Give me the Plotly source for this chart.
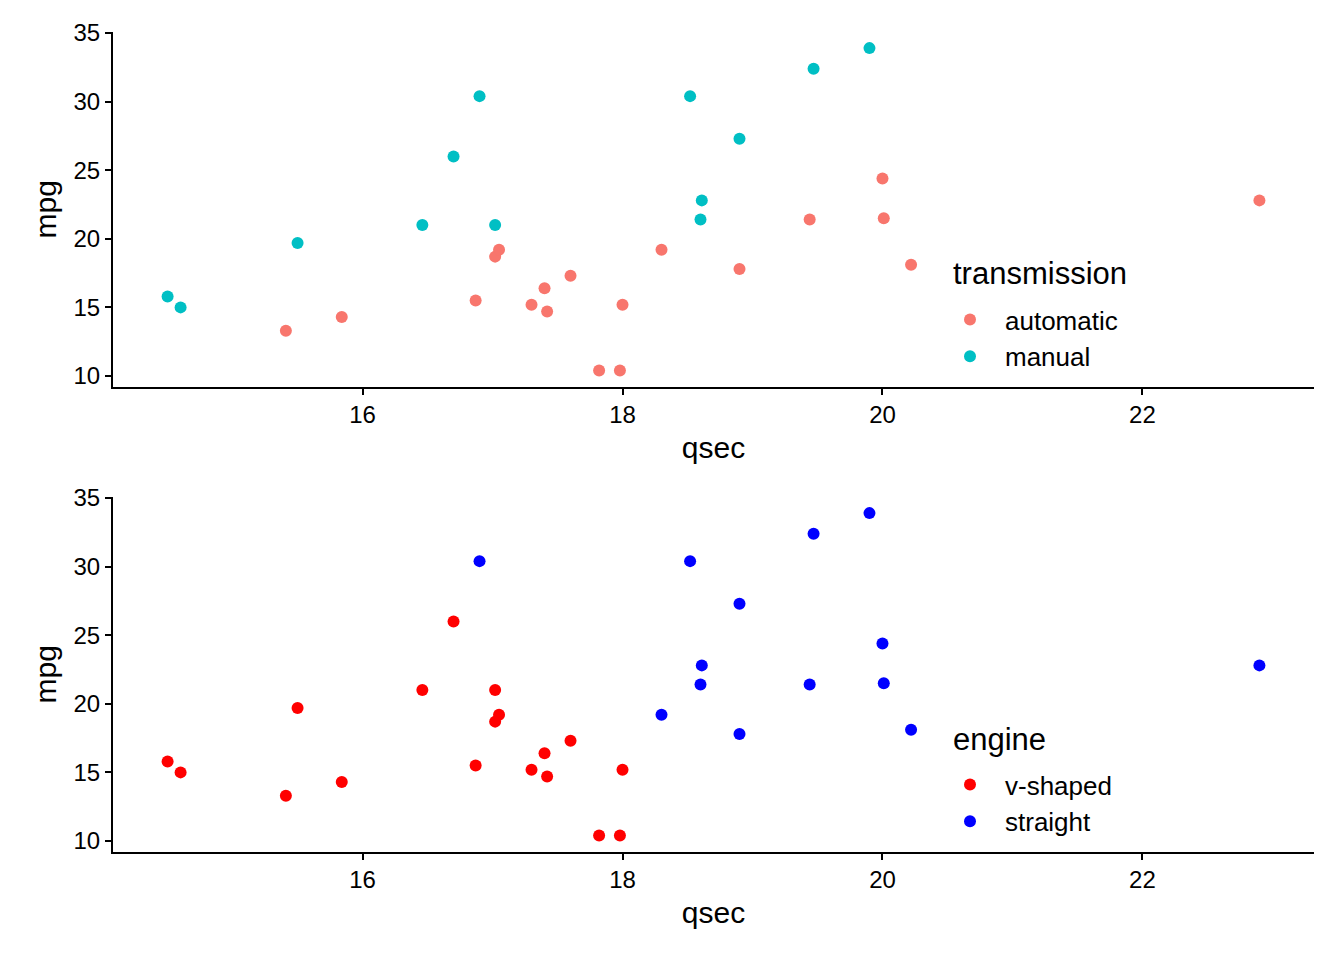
import plotly.graph_objects as go

qsec = [16.46, 17.02, 18.61, 19.44, 17.02, 20.22, 15.84, 20.00, 22.90, 18.30, 18.90,
        17.40, 17.60, 18.00, 17.98, 17.82, 17.42, 19.47, 18.52, 19.90, 20.01, 16.87,
        17.30, 15.41, 17.05, 18.90, 16.70, 16.90, 14.50, 15.50, 14.60, 18.60]
mpg = [21.0, 21.0, 22.8, 21.4, 18.7, 18.1, 14.3, 24.4, 22.8, 19.2, 17.8,
       16.4, 17.3, 15.2, 10.4, 10.4, 14.7, 32.4, 30.4, 33.9, 21.5, 15.5,
       15.2, 13.3, 19.2, 27.3, 26.0, 30.4, 15.8, 19.7, 15.0, 21.4]
am = [1, 1, 1, 0, 0, 0, 0, 0, 0, 0, 0, 0, 0, 0, 0, 0, 0, 1, 1, 1, 0, 0,
      0, 0, 0, 1, 1, 1, 1, 1, 1, 1]
vs = [0, 0, 1, 1, 0, 1, 0, 1, 1, 1, 1, 0, 0, 0, 0, 0, 0, 1, 1, 1, 1, 0,
      0, 0, 0, 1, 0, 1, 0, 0, 0, 1]

am_levels = [(0, "automatic", "#F8766D"), (1, "manual", "#00BFC4")]
vs_levels = [(0, "v-shaped", "#FF0000"), (1, "straight", "#0000FF")]
x_ticks = [16, 18, 20, 22]
y_ticks = [10, 15, 20, 25, 30, 35]

FONT = "Liberation Sans, Arial, sans-serif"
fig = go.Figure()

for code, name, col in am_levels:
    xs = [q for q, a in zip(qsec, am) if a == code]
    ys = [m for m, a in zip(mpg, am) if a == code]
    fig.add_trace(go.Scatter(x=xs, y=ys, mode="markers", name=name,
                             marker=dict(color=col, size=12, line=dict(width=0)),
                             xaxis="x", yaxis="y", legend="legend"))
for code, name, col in vs_levels:
    xs = [q for q, v in zip(qsec, vs) if v == code]
    ys = [m for m, v in zip(mpg, vs) if v == code]
    fig.add_trace(go.Scatter(x=xs, y=ys, mode="markers", name=name,
                             marker=dict(color=col, size=12, line=dict(width=0)),
                             xaxis="x2", yaxis="y2", legend="legend2"))

W, H = 1344, 960
xdom = [113 / W, 1314 / W]
axis_common = dict(showline=True, linecolor="black", linewidth=2, ticks="outside",
                   ticklen=6, tickwidth=2, tickcolor="black", showgrid=False,
                   zeroline=False, automargin=False,
                   tickfont=dict(size=24, color="black", family=FONT),
                   title_font=dict(size=30, color="black", family=FONT))
xr = [14.08, 23.32]
yr = [9.225, 35.075]

leg_common = dict(xanchor="left", yanchor="top", font=dict(size=26, family=FONT, color="black"),
                  bgcolor="rgba(0,0,0,0)", itemsizing="constant", itemwidth=60,
                  tracegroupgap=0)

fig.update_layout(
    width=W, height=H, margin=dict(l=0, r=0, t=0, b=0, pad=0, autoexpand=False),
    plot_bgcolor="white", paper_bgcolor="white",
    font=dict(family=FONT, color="black"),
    xaxis=dict(domain=xdom, range=xr, anchor="y", tickvals=x_ticks,
               title=dict(text="qsec", standoff=10), **axis_common),
    yaxis=dict(domain=[1 - 386.6 / H, 1 - 32 / H], range=yr, anchor="x",
               tickvals=y_ticks, title=dict(text="mpg", standoff=8), **axis_common),
    xaxis2=dict(domain=xdom, range=xr, anchor="y2", tickvals=x_ticks,
                title=dict(text="qsec", standoff=10), **axis_common),
    yaxis2=dict(domain=[1 - 851.6 / H, 1 - 497 / H], range=yr, anchor="x2",
                tickvals=y_ticks, title=dict(text="mpg", standoff=8), **axis_common),
    legend=dict(x=935 / W, y=1 - 296 / H, **leg_common),
    legend2=dict(x=935 / W, y=1 - 761 / H, **leg_common),
    showlegend=True,
    annotations=[
        dict(text="transmission", x=951 / W, y=1 - 273 / H, xref="paper", yref="paper",
             xanchor="left", yanchor="middle", showarrow=False,
             font=dict(size=31, family=FONT, color="black")),
        dict(text="engine", x=951 / W, y=1 - 739 / H, xref="paper", yref="paper",
             xanchor="left", yanchor="middle", showarrow=False,
             font=dict(size=31, family=FONT, color="black")),
    ],
)

fig.write_html("out.html")
